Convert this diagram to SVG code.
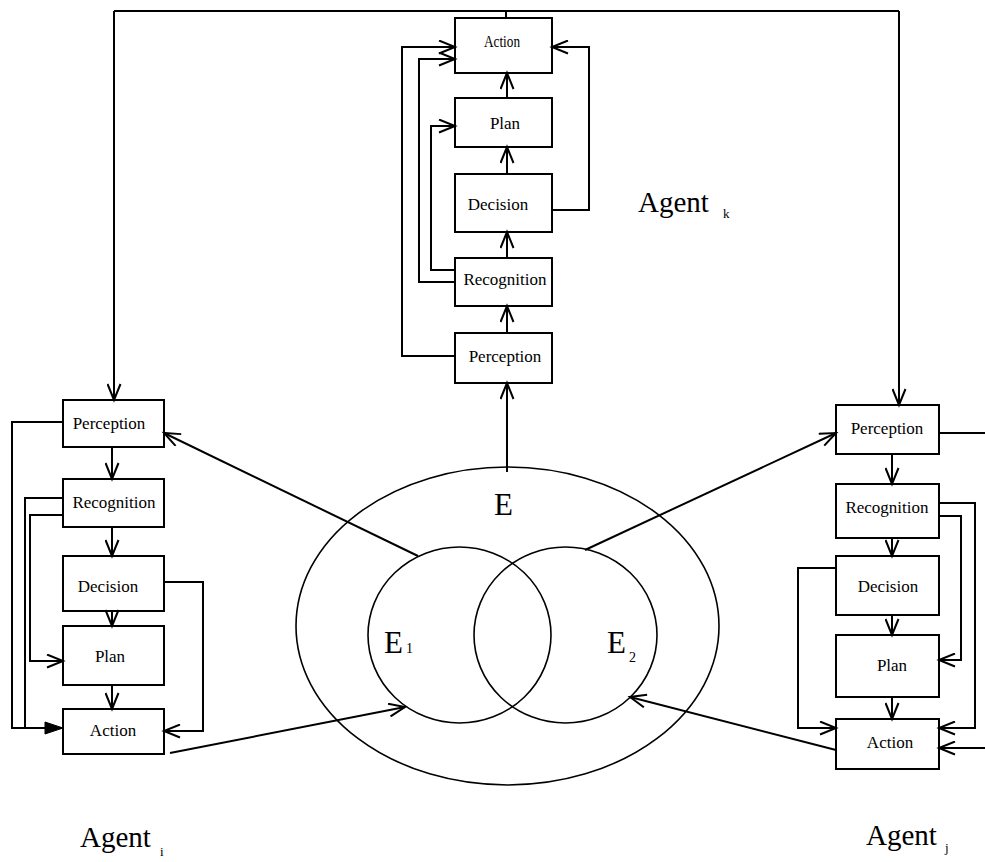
<svg xmlns="http://www.w3.org/2000/svg" width="985" height="862" viewBox="0 0 985 862">
  <style>
    .box { fill: #fff; stroke: #000; stroke-width: 2; }
    .lbl { font-family: "Liberation Serif", "Times New Roman", serif; font-size: 17px; fill: #000; text-anchor: middle; }
    .big { font-family: "Liberation Serif", "Times New Roman", serif; font-size: 29px; fill: #000; }
    .sub { font-family: "Liberation Serif", "Times New Roman", serif; font-size: 13px; fill: #000; }
    .wire { fill: none; stroke: #000; stroke-width: 2; }
    .arr { marker-end: url(#open); }
    .env { fill: none; stroke: #000; stroke-width: 1.6; }
  </style>
  <defs>
    <marker id="open" markerUnits="userSpaceOnUse" markerWidth="20" markerHeight="15" refX="16" refY="6.5" orient="auto" viewBox="-1 -1 20 15">
      <path d="M0,0 L16,6.5 L0,13" fill="none" stroke="#000" stroke-width="2"/>
    </marker>
    <marker id="solid" markerUnits="userSpaceOnUse" markerWidth="20" markerHeight="14" refX="18" refY="6" orient="auto" viewBox="-1 -1 20 14">
      <path d="M0,0 L18,6 L0,12 Z" fill="#000" stroke="#000" stroke-width="1"/>
    </marker>
  </defs>

  <!-- environment -->
  <g id="env">
    <ellipse class="env" cx="507.5" cy="626" rx="211.5" ry="159"/>
    <text class="big" x="494" y="515" style="font-size:31px">E</text>
  </g>
  <g id="env1">
    <ellipse class="env" cx="459.5" cy="635" rx="91.5" ry="88"/>
    <text class="big" x="384" y="653" style="font-size:31px">E</text>
    <text class="sub" x="406" y="653" style="font-size:14px">1</text>
  </g>
  <g id="env2">
    <ellipse class="env" cx="565.5" cy="635" rx="91.5" ry="88"/>
    <text class="big" x="607" y="653" style="font-size:31px">E</text>
    <text class="sub" x="629" y="662" style="font-size:14px">2</text>
  </g>

  <!-- agent k -->
  <g id="k-action"><rect class="box" x="455" y="18" width="97" height="55"/><text class="lbl" x="502" y="47" textLength="36" lengthAdjust="spacingAndGlyphs">Action</text></g>
  <g id="k-plan"><rect class="box" x="455" y="98" width="97" height="49"/><text class="lbl" x="505" y="129">Plan</text></g>
  <g id="k-decision"><rect class="box" x="455" y="174" width="97" height="58"/><text class="lbl" x="498" y="210">Decision</text></g>
  <g id="k-recognition"><rect class="box" x="455" y="258" width="97" height="48"/><text class="lbl" x="505" y="285">Recognition</text></g>
  <g id="k-perception"><rect class="box" x="455" y="333" width="97" height="50"/><text class="lbl" x="505" y="362">Perception</text></g>
  <g id="label-k"><text class="big" x="638" y="212">Agent</text><text class="sub" x="723" y="218">k</text></g>

  <!-- agent i -->
  <g id="i-perception"><rect class="box" x="63" y="400" width="101" height="47"/><text class="lbl" x="109" y="429">Perception</text></g>
  <g id="i-recognition"><rect class="box" x="63" y="479" width="101" height="48"/><text class="lbl" x="114" y="508">Recognition</text></g>
  <g id="i-decision"><rect class="box" x="63" y="556" width="101" height="55"/><text class="lbl" x="108" y="592">Decision</text></g>
  <g id="i-plan"><rect class="box" x="63" y="626" width="101" height="59"/><text class="lbl" x="110" y="662">Plan</text></g>
  <g id="i-action"><rect class="box" x="63" y="709" width="101" height="45"/><text class="lbl" x="113" y="736">Action</text></g>
  <g id="label-i"><text class="big" x="80" y="847">Agent</text><text class="sub" x="160" y="856">i</text></g>

  <!-- agent j -->
  <g id="j-perception"><rect class="box" x="836" y="405" width="103" height="49"/><text class="lbl" x="887" y="434">Perception</text></g>
  <g id="j-recognition"><rect class="box" x="836" y="484" width="103" height="54"/><text class="lbl" x="887" y="513">Recognition</text></g>
  <g id="j-decision"><rect class="box" x="836" y="556" width="103" height="59"/><text class="lbl" x="888" y="592">Decision</text></g>
  <g id="j-plan"><rect class="box" x="836" y="635" width="103" height="62"/><text class="lbl" x="892" y="671">Plan</text></g>
  <g id="j-action"><rect class="box" x="836" y="719" width="103" height="50"/><text class="lbl" x="890" y="748">Action</text></g>
  <g id="label-j"><text class="big" x="866" y="845">Agent</text><text class="sub" x="945" y="852">j</text></g>

  <g id="connectors">
    <!-- broadcast line across the top -->
    <path class="wire" d="M114,11 L899,11"/>
    <path class="wire" d="M506,11 L506,18"/>
    <path class="wire arr" d="M114,11 L114,400"/>
    <path class="wire arr" d="M899,11 L899,405"/>

    <!-- agent k chain -->
    <path class="wire arr" d="M507,98 L507,73"/>
    <path class="wire arr" d="M507,174 L507,147"/>
    <path class="wire arr" d="M507,258 L507,232"/>
    <path class="wire arr" d="M507,333 L507,306"/>
    <path class="wire arr" d="M507,472 L507,383"/>
    <path class="wire arr" d="M455,356 L402,356 L402,47 L455,47"/>
    <path class="wire arr" d="M455,282 L419,282 L419,59 L455,59"/>
    <path class="wire arr" d="M455,270 L431,270 L431,126 L455,126"/>
    <path class="wire arr" d="M552,210 L589,210 L589,47 L552,47"/>

    <!-- agent i chain -->
    <path class="wire arr" d="M112,447 L112,479"/>
    <path class="wire arr" d="M112,527 L112,556"/>
    <path class="wire arr" d="M112,611 L112,626"/>
    <path class="wire arr" d="M112,685 L112,709"/>
    <path class="wire" d="M63,422 L12,422 L12,728 L25,728"/>
    <path class="wire" d="M63,498 L25,498 L25,728 L63,728" marker-end="url(#solid)"/>
    <path class="wire arr" d="M63,515 L30,515 L30,661 L63,661"/>
    <path class="wire arr" d="M164,582 L203,582 L203,731 L164,731"/>

    <!-- agent j chain -->
    <path class="wire arr" d="M892,454 L892,484"/>
    <path class="wire arr" d="M892,538 L892,556"/>
    <path class="wire arr" d="M892,615 L892,635"/>
    <path class="wire arr" d="M892,697 L892,719"/>
    <path class="wire" d="M939,433 L985,433"/>
    <path class="wire arr" d="M939,503 L975,503 L975,728 L939,728"/>
    <path class="wire arr" d="M939,516 L961,516 L961,660 L939,660"/>
    <path class="wire arr" d="M836,568 L798,568 L798,728 L836,728"/>
    <path class="wire arr" d="M985,748 L939,748"/>

    <!-- environment links -->
    <path class="wire arr" d="M418,556 L164,433"/>
    <path class="wire arr" d="M585,550 L836,433"/>
    <path class="wire arr" d="M170,753 L405,707"/>
    <path class="wire arr" d="M836,750 L630,697"/>
  </g>
</svg>
